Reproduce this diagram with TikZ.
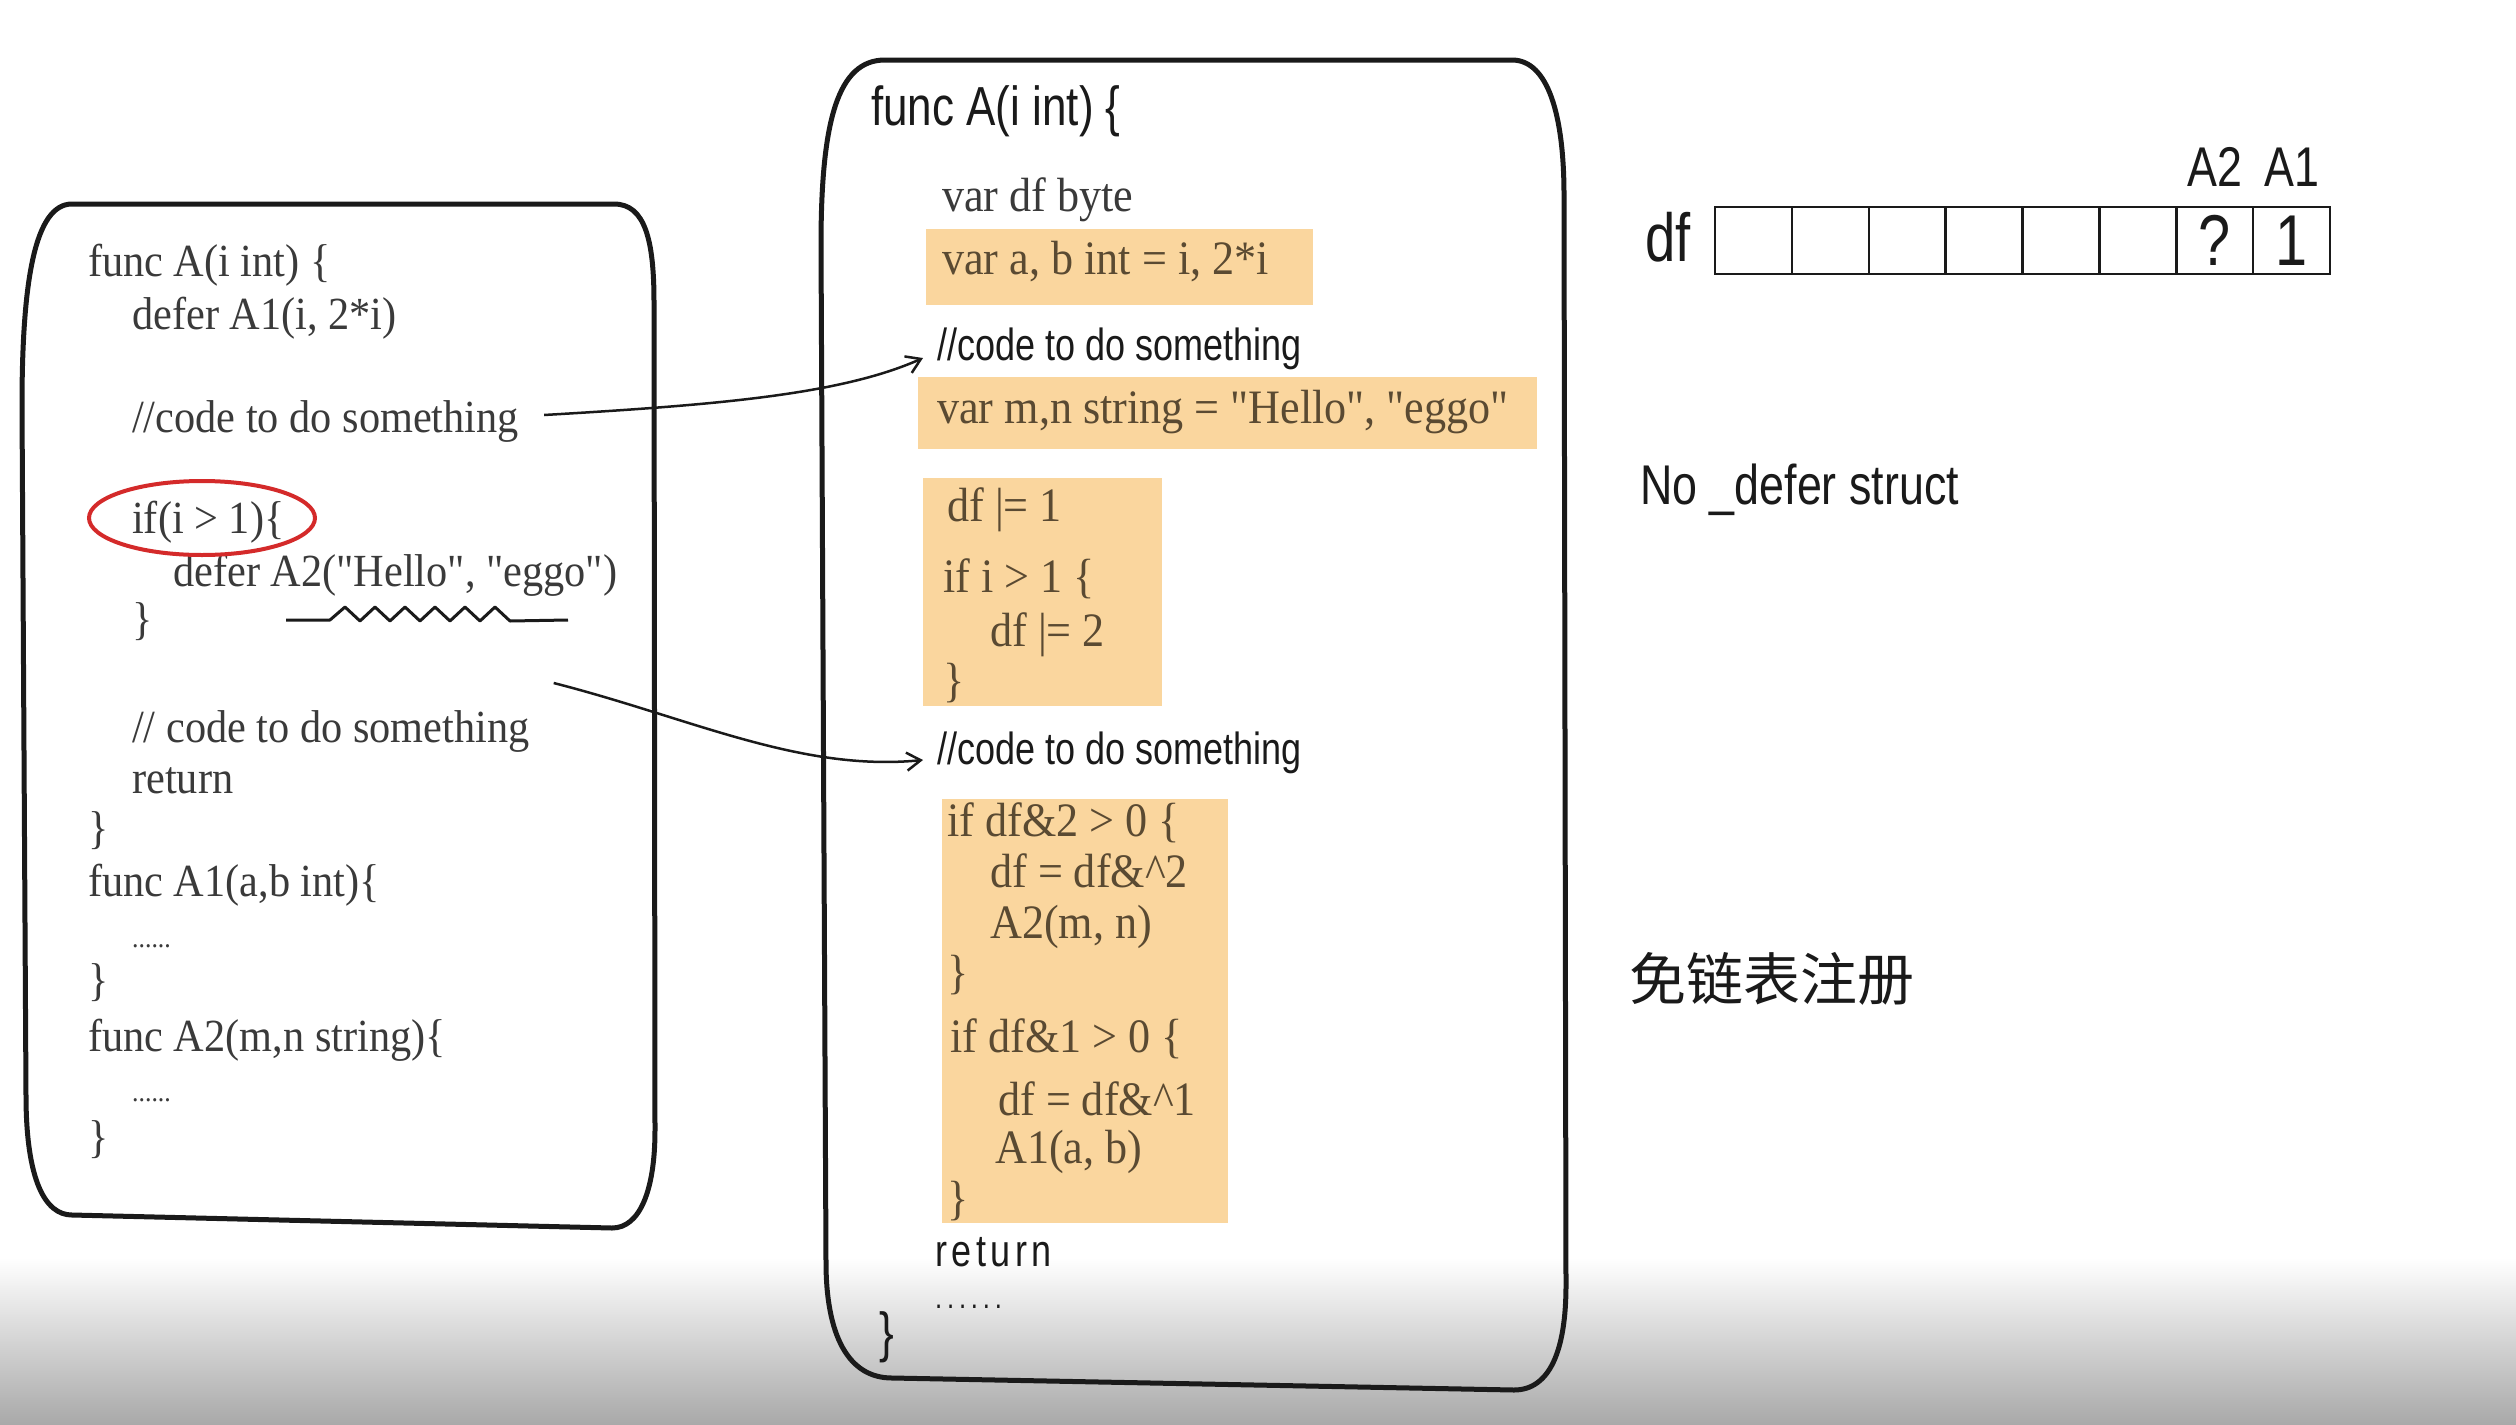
\documentclass[tikz,border=0pt]{standalone}
\usepackage{fontspec}
\setmainfont{Liberation Serif}
\newfontfamily\serifL[FakeStretch=0.92]{Liberation Serif}
\newfontfamily\handf[FakeStretch=0.8]{Liberation Sans}
\newfontfamily\handsp[FakeStretch=0.8,LetterSpace=10]{Liberation Sans}
\newfontfamily\handdots[FakeStretch=0.8,LetterSpace=15]{Liberation Sans}
\newfontfamily\cjkf{Noto Sans CJK SC}
\usetikzlibrary{arrows.meta}
\definecolor{txt}{HTML}{3A3A3A}
\definecolor{htxt}{HTML}{5A4A32}
\definecolor{ink}{HTML}{1A1A1A}
\definecolor{hlor}{HTML}{FAD69E}
\definecolor{redring}{HTML}{D42A2A}
\definecolor{gmid}{HTML}{E2E2E2}
\definecolor{gbot}{HTML}{A9A9A9}
\tikzset{
 boxline/.style={line width=5pt, draw=ink, line join=round, line cap=round},
 basetxt/.style={anchor=west, inner sep=0pt},
 lt/.style={basetxt, text height=36.8pt, text depth=9.2pt, font=\serifL\fontsize{46}{50}\selectfont, text=txt},
 ldots/.style={basetxt, text height=6pt, text depth=0pt, font=\serifL\fontsize{28}{30}\selectfont, text=txt},
 mt/.style={basetxt, text height=37.5pt, text depth=9.5pt, font=\serifL\fontsize{48}{52}\selectfont, text=txt},
 ht/.style={mt, text=htxt},
 hw/.style={basetxt, text height=36pt, text depth=9pt, font=\handf\fontsize{45}{50}\selectfont, text=ink},
 hwsp/.style={hw, font=\handsp\fontsize{45}{50}\selectfont},
 hwdots/.style={basetxt, text height=8pt, text depth=0pt, font=\handdots\fontsize{32}{34}\selectfont, text=ink},
 hwbig/.style={basetxt, text height=44pt, text depth=11pt, font=\handf\fontsize{55}{60}\selectfont, text=ink},
 hwlab/.style={basetxt, text height=44.8pt, text depth=11.2pt, font=\handf\fontsize{56}{60}\selectfont, text=ink},
 hl/.style={fill=hlor},
 cell/.style={draw=ink, line width=2.5pt, minimum width=76.875pt, minimum height=67pt, inner sep=0pt, font=\handf\fontsize{72}{72}\selectfont, text=ink},
 conn/.style={line width=2.5pt, draw=ink, -{Straight Barb[length=14pt,width=18pt,line width=2.5pt]}},
}
\begin{document}
\begin{tikzpicture}[x=1pt,y=-1pt]
\useasboundingbox (0,0) rectangle (2516,1424);
\fill[white] (0,0) rectangle (2516,1424);
% bottom video gradient
\shade[top color=white, middle color=gmid, bottom color=gbot] (0,1258) rectangle (2516,1424);

% ---------------- left box ----------------
\draw[boxline] (22,406) .. controls (22,280) and (35,204) .. (72,204) -- (614,204)
  .. controls (645,204) and (654,240) .. (654,302) -- (655,1130)
  .. controls (655,1190) and (640,1228) .. (612,1228) -- (72,1215)
  .. controls (45,1215) and (26,1180) .. (26,1095) -- cycle;

\node[lt] (L1) at (88,263) {func A(i int) \{};
\node[lt] (L2) at (132,316) {defer A1(i, 2*i)};
\node[lt] (L3) at (132,419) {//code to do something};
\node[lt] (L4) at (132,520) {if(i > 1)\{};
\node[lt] (L5) at (173,573) {defer A2("Hello", "eggo")};
\node[lt] (L6) at (132,621) {\}};
\node[lt] (L7) at (132,729) {// code to do something};
\node[lt] (L8) at (132,780) {return};
\node[lt] (L9) at (88,830) {\}};
\node[lt] (L10) at (88,883) {func A1(a,b int)\{};
\node[ldots] (L11) at (132,944) {......};
\node[lt] (L12) at (88,982) {\}};
\node[lt] (L13) at (88,1038) {func A2(m,n string)\{};
\node[ldots] (L14) at (132,1098) {......};
\node[lt] (L15) at (88,1139) {\}};

% red ring and wavy underline
\draw[redring, line width=4pt] (202,518) ellipse [x radius=113, y radius=37];
\draw[ink, line width=3pt, line join=round] (286,620) -- (330,620) -- (345,607) -- (360,621) -- (375,607) -- (390,621)
  -- (405,607) -- (420,621) -- (435,607) -- (450,621) -- (465,607) -- (480,621)
  -- (495,607) -- (510,621) -- (568,620);

% ---------------- middle box ----------------
\fill[hl] (926,229) rectangle (1313,305);
\fill[hl] (918,377) rectangle (1537,449);
\fill[hl] (923,478) rectangle (1162,706);
\fill[hl] (942,799) rectangle (1228,1223);

\draw[boxline] (821,245) .. controls (821,120) and (838,60) .. (885,60) -- (1512,60)
  .. controls (1548,60) and (1564,115) .. (1564,195) -- (1566,1285)
  .. controls (1566,1350) and (1550,1390) .. (1514,1390) -- (892,1378)
  .. controls (848,1378) and (826,1335) .. (826,1262) -- cycle;

\node[hwbig] (M0) at (871,109) {func A(i int) \{};
\node[mt] (M1) at (942,197) {var df byte};
\node[ht] (M2) at (942,260) {var a, b int = i, 2*i};
\node[hw] (M3) at (937,347) {//code to do something};
\node[ht] (M4) at (937,409) {var m,n string = "Hello", "eggo"};
\node[ht] (M5) at (947,507) {df |= 1};
\node[ht] (M6) at (943,578) {if i > 1 \{};
\node[ht] (M7) at (990,632) {df |= 2};
\node[ht] (M8) at (943,682) {\}};
\node[hw] (M9) at (937,751) {//code to do something};
\node[ht] (M10) at (947,822) {if df\&2 > 0 \{};
\node[ht] (M11) at (990,873) {df = df\&\textasciicircum 2};
\node[ht] (M12) at (990,924) {A2(m, n)};
\node[ht] (M13) at (947,974) {\}};
\node[ht] (M14) at (950,1038) {if df\&1 > 0 \{};
\node[ht] (M15) at (998,1101) {df = df\&\textasciicircum 1};
\node[ht] (M16) at (995,1149) {A1(a, b)};
\node[ht] (M17) at (947,1200) {\}};
\node[hwsp] (M18) at (935,1253) {return};
\node[hwdots] (M19) at (935,1304) {......};
\node[hwbig] (M20) at (879,1335) {\}};

% connectors
\draw[conn] ([xshift=25pt,yshift=4pt]L3.east) .. controls +(170,-10) and +(-83,37) .. ([xshift=-14pt,yshift=-11pt]M3.west);
\draw[conn] ([xshift=24pt,yshift=46pt]L7.east) .. controls +(137,35) and +(-123,12) .. ([xshift=-14pt,yshift=-9pt]M9.west);

% ---------------- right side ----------------
\node[basetxt, text height=54pt, text depth=13.6pt, font=\handf\fontsize{68}{70}\selectfont, text=ink] (dflab) at (1645,241) {df};
\foreach \i in {1,...,6} {
  \node[cell] (c\i) at ({1715+76.875*(\i-0.5)},240.5) {};
}
\node[cell] (c7) at ({1715+76.875*6.5},240.5) {?};
\node[cell] (c8) at ({1715+76.875*7.5},240.5) {1};
\node[hwlab, anchor=base] (lA2) at ([yshift=19pt]c7.north) {A2};
\node[hwlab, anchor=base] (lA1) at ([yshift=19pt]c8.north) {A1};

\node[hwlab] (nods) at (1640,488) {No \_defer struct};
\node[basetxt, text height=45.6pt, text depth=11.4pt, font=\cjkf\fontsize{57}{60}\selectfont, text=ink] (cn) at (1629,983) {免链表注册};
\end{tikzpicture}
\end{document}
